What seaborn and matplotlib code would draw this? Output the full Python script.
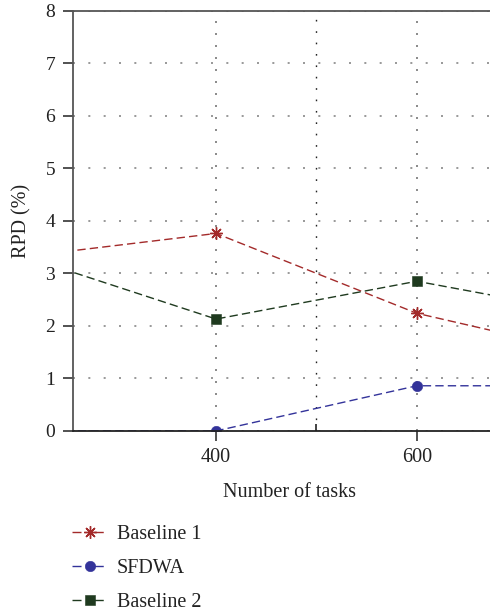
import pandas as pd
import matplotlib.pyplot as plt
import seaborn as sns
from matplotlib.ticker import FixedLocator

# 数据
tasks = [200, 400, 600, 800]
baseline1 = [3.30, 3.76, 2.24, 1.36]
sfdwa = [0.0, 0.0, 0.86, 0.86]
baseline2 = [3.38, 2.13, 2.85, 2.14]

labels = ['Baseline 1', 'SFDWA', 'Baseline 2']
colors = ['#a32a2a', '#33339a', '#1f3a1f']
markers = [(8, 2, 0), 'o', 's']
msizes = [9, 7.5, 6.5]

sns.set_style('white')
plt.rcParams['font.family'] = ['Liberation Serif', 'DejaVu Serif']

fig = plt.figure(figsize=(4.9, 6.13), dpi=100)
ax = fig.add_axes([0.148, 0.297, 0.887, 0.6855])

for vals, lab, c, m, ms in zip([baseline1, sfdwa, baseline2], labels, colors, markers, msizes):
    sns.lineplot(x=tasks, y=vals, ax=ax, color=c, marker=m, markersize=ms,
                 linestyle=(0, (6, 3)), linewidth=1.0, label=lab,
                 markeredgecolor=c, markeredgewidth=1.0 if m == (8, 2, 0) else 0.4)

ax.set_xlim(257, 690)
ax.set_ylim(0, 8)
ax.set_xticks([400, 600])
ax.xaxis.set_minor_locator(FixedLocator([500]))
ax.set_yticks(range(0, 9))

# 网格
ax.grid(axis='y', which='major', color='#888888', linestyle=(0, (1.2, 8)), linewidth=1.2)
ax.grid(axis='x', which='major', color='#777777', linestyle=(0, (1.2, 6)), linewidth=1.2)
ax.grid(axis='x', which='minor', color='#222222', linestyle=(0, (1.2, 7)), linewidth=1.0)

for s in ['left', 'top']:
    ax.spines[s].set_color('#555555')
    ax.spines[s].set_linewidth(1.3)
ax.spines['bottom'].set_color('#222222')
ax.spines['bottom'].set_linewidth(1.3)
ax.spines['right'].set_visible(False)

ax.tick_params(axis='y', which='major', direction='out', length=7, width=1.2,
               color='#333333', labelsize=14, left=True, pad=5.5)
ax.tick_params(axis='x', which='major', direction='out', length=7, width=1.2,
               color='#333333', labelsize=14.5, bottom=True, pad=5)
ax.tick_params(axis='x', which='minor', direction='in', length=5, width=1.2,
               color='#222222', bottom=True)

ax.set_xlabel('Number of tasks', fontsize=14.5, color='#222222', labelpad=12)
ax.set_ylabel('RPD (%)', fontsize=14.5, color='#222222', labelpad=10)
for t in ax.get_xticklabels() + ax.get_yticklabels():
    t.set_color('#222222')

handles, labs = ax.get_legend_handles_labels()
ax.get_legend().remove()
leg = fig.legend(handles, labs, loc='upper left', bbox_to_anchor=(0.131, 0.157),
                 frameon=False, fontsize=14.5, handlelength=1.75, handletextpad=0.45,
                 labelspacing=0.75, borderaxespad=0)
for ln in leg.get_lines():
    ln.set_linestyle((0, (6.5, 9.5)))
for t in leg.get_texts():
    t.set_color('#222222')

fig.savefig('out.png', dpi=100)
plt.close()
